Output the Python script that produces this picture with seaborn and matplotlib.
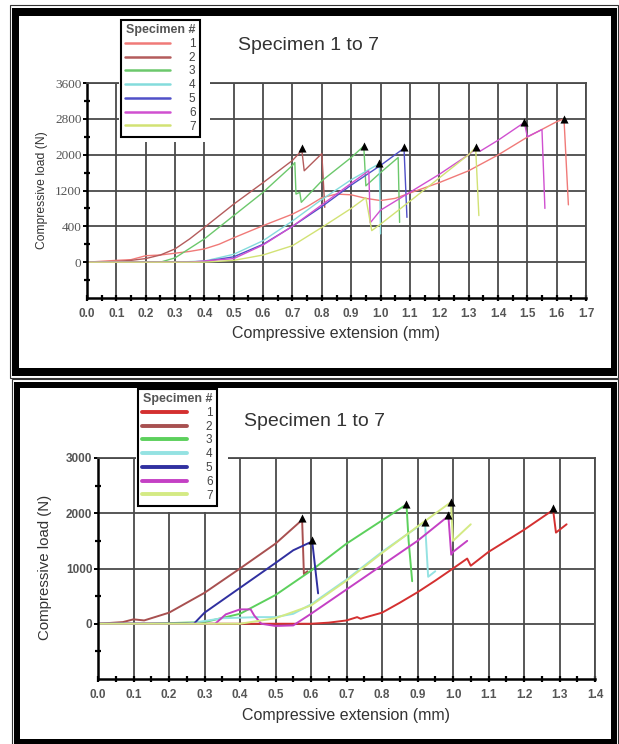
"""Compressive load vs extension, specimens 1-7, two test series stacked."""

import numpy as np
import pandas as pd
import seaborn as sns
import matplotlib.pyplot as plt
from matplotlib.lines import Line2D
from matplotlib.patches import Rectangle

# ---- data: upper series (load in plot units, 800 per grid step; the original
# axis labels are printed as 0, 400, 1200, 2000, 2800, 3600) ----
TOP_YTICK_LABELS = ["0", "400", "1200", "2000", "2800", "3600"]

top_s1_x = [0.0, 0.1, 0.15, 0.2, 0.25, 0.3, 0.35, 0.4, 0.45, 0.5, 0.55, 0.6, 0.65, 0.7,
            0.75, 0.8, 0.85, 0.9, 0.95, 1.0, 1.05, 1.1, 1.2, 1.3, 1.4, 1.5, 1.6, 1.625, 1.64]
top_s1_y = [0, 40, 56, 144, 160, 200, 240, 296, 400, 544, 680, 816, 944, 1072,
            1240, 1440, 1520, 1504, 1424, 1376, 1424, 1544, 1776, 2040, 2392, 2792, 3136, 3200, 1280]
top_s2_x = [0.0, 0.1, 0.15, 0.2, 0.25, 0.3, 0.35, 0.4, 0.5, 0.6, 0.7, 0.732, 0.74, 0.8, 0.81]
top_s2_y = [0, 16, 40, 80, 160, 296, 520, 776, 1296, 1776, 2272, 2496, 2040, 2424, 1224]
top_s3_x = [0.0, 0.15, 0.25, 0.3, 0.4, 0.5, 0.6, 0.7, 0.708, 0.712, 0.725, 0.73,
            0.8, 0.9, 0.943, 0.95, 1.0, 1.06, 1.065]
top_s3_y = [0, 0, 0, 96, 520, 1040, 1560, 2160, 2224, 1520, 1560, 1336,
            1816, 2336, 2592, 1704, 2000, 2336, 888]
top_s4_x = [0.0, 0.3, 0.4, 0.5, 0.6, 0.7, 0.8, 0.9, 0.996, 1.0]
top_s4_y = [0, 0, 24, 176, 480, 920, 1400, 1840, 2200, 632]
top_s5_x = [0.0, 0.3, 0.4, 0.5, 0.6, 0.7, 0.8, 0.9, 1.0, 1.08, 1.09]
top_s5_y = [0, 0, 16, 120, 400, 800, 1240, 1720, 2160, 2544, 1000]
top_s6_x = [0.0, 0.35, 0.5, 0.6, 0.7, 0.8, 0.9, 0.96, 0.965, 1.0, 1.1, 1.2, 1.3,
            1.33, 1.34, 1.4, 1.49, 1.5, 1.55, 1.56]
top_s6_y = [0, 0, 80, 384, 800, 1280, 1760, 2040, 880, 1160, 1560, 1960, 2400,
            2560, 2480, 2720, 3120, 2800, 2960, 1200]
top_s7_x = [0.0, 0.4, 0.5, 0.6, 0.7, 0.8, 0.9, 0.95, 0.97, 1.0, 1.1, 1.2, 1.3, 1.324, 1.335]
top_s7_y = [0, 0, 40, 160, 368, 776, 1200, 1440, 704, 848, 1360, 1880, 2400, 2560, 1040]
top_peak_x = [0.732, 0.943, 0.996, 1.08, 1.324, 1.49, 1.625]
top_peak_y = [2552, 2592, 2208, 2576, 2576, 3120, 3200]

# ---- data: lower series (load in N) ----
bot_s1_x = [0.0, 0.6, 0.65, 0.7, 0.73, 0.74, 0.75, 0.8, 0.85, 0.9, 0.95, 1.0, 1.04,
            1.05, 1.06, 1.1, 1.2, 1.282, 1.29, 1.32]
bot_s1_y = [0, 0, 20, 60, 120, 90, 110, 200, 380, 570, 780, 1000, 1180,
            1050, 1100, 1300, 1700, 2060, 1650, 1800]
bot_s2_x = [0.0, 0.07, 0.1, 0.13, 0.2, 0.3, 0.4, 0.5, 0.575, 0.58, 0.59]
bot_s2_y = [0, 30, 80, 60, 200, 560, 1000, 1450, 1880, 900, 950]
bot_s3_x = [0.0, 0.14, 0.3, 0.4, 0.5, 0.6, 0.7, 0.8, 0.869, 0.875, 0.885]
bot_s3_y = [0, 0, 30, 180, 520, 960, 1450, 1870, 2160, 1500, 770]
bot_s4_x = [0.0, 0.25, 0.35, 0.45, 0.5, 0.55, 0.6, 0.7, 0.8, 0.9, 0.921, 0.93, 0.95]
bot_s4_y = [0, 0, 100, 120, 120, 180, 350, 800, 1300, 1750, 1850, 850, 950]
bot_s5_x = [0.0, 0.27, 0.3, 0.4, 0.5, 0.55, 0.6, 0.603, 0.62]
bot_s5_y = [0, 0, 200, 650, 1100, 1330, 1480, 1515, 550]
bot_s6_x = [0.0, 0.33, 0.36, 0.4, 0.43, 0.44, 0.46, 0.5, 0.55, 0.6, 0.7, 0.8, 0.9,
            0.987, 0.995, 1.0, 1.04]
bot_s6_y = [0, 0, 170, 260, 260, 150, 0, -40, -30, 180, 620, 1060, 1500,
            1950, 1250, 1300, 1500]
bot_s7_x = [0.0, 0.4, 0.5, 0.6, 0.7, 0.8, 0.9, 0.994, 1.0, 1.05]
bot_s7_y = [0, 0, 100, 330, 780, 1280, 1760, 2200, 1500, 1800]
bot_peak_x = [0.575, 0.603, 0.869, 0.921, 0.987, 0.994, 1.282]
bot_peak_y = [1909, 1515, 2164, 1848, 1964, 2206, 2103]

SPECIMENS = ["1", "2", "3", "4", "5", "6", "7"]
TOP_COLORS = ["#f07a78", "#b45c5c", "#6cc86c", "#84dcdc", "#5050c8", "#d050d0", "#d2e274"]
BOT_COLORS = ["#d43030", "#a85050", "#5cd05c", "#94e2e2", "#3030a0", "#c440c4", "#d4ea84"]


def long_frame(xs, ys):
    parts = []
    for name, x, y in zip(SPECIMENS, xs, ys):
        parts.append(pd.DataFrame({"ext": x, "load": y, "specimen": name}))
    return pd.concat(parts, ignore_index=True)


W, H = 619, 744


def fx(px):
    return px / W


def fy(py):
    return 1 - py / H


def rect(x0, y0, x1, y1, **kw):
    return Rectangle((fx(x0), fy(y1)), (x1 - x0) / W, (y1 - y0) / H,
                     transform=fig.transFigure, **kw)


sns.set_theme(style="white")
plt.rcParams["font.family"] = ["Liberation Sans", "DejaVu Sans"]

fig = plt.figure(figsize=(W / 100, H / 100), dpi=100)

# double black frames around each panel
for (o, b, w) in [((10, 5, 618, 378), (12, 8, 617, 376), (19, 16, 611, 368)),
                  ((12, 379, 618, 746), (14, 382, 617, 746), (20, 388, 611, 739))]:
    fig.patches.append(rect(*o, facecolor="white", edgecolor="#333333", lw=0.8, zorder=-3))
    fig.patches.append(rect(*b, facecolor="black", edgecolor="none", zorder=-2))
    fig.patches.append(rect(*w, facecolor="white", edgecolor="none", zorder=-1))

panels = [
    dict(box=(87, 83, 586, 298), xmax=1.7, ylim=(-800, 4000),
         yticks=[0, 800, 1600, 2400, 3200, 4000], ylabels=TOP_YTICK_LABELS,
         xs=[top_s1_x, top_s2_x, top_s3_x, top_s4_x, top_s5_x, top_s6_x, top_s7_x],
         ys=[top_s1_y, top_s2_y, top_s3_y, top_s4_y, top_s5_y, top_s6_y, top_s7_y],
         px=top_peak_x, py=top_peak_y, colors=TOP_COLORS, lw=1.0, leg_lw=1.8,
         title_xy=(309, 46), ylab_fs=8.7, ylab_xy=(-0.09, 0.5), xlab_y=-0.163,
         ytick_font=dict(family="Liberation Serif", size=9.5),
         legend_at=(121, 20), backing=(118.5, 16, 210, 142)),
    dict(box=(98, 458, 595, 679), xmax=1.4, ylim=(-1000, 3000),
         yticks=[0, 1000, 2000, 3000], ylabels=["0", "1000", "2000", "3000"],
         xs=[bot_s1_x, bot_s2_x, bot_s3_x, bot_s4_x, bot_s5_x, bot_s6_x, bot_s7_x],
         ys=[bot_s1_y, bot_s2_y, bot_s3_y, bot_s4_y, bot_s5_y, bot_s6_y, bot_s7_y],
         px=bot_peak_x, py=bot_peak_y, colors=BOT_COLORS, lw=1.4, leg_lw=2.8,
         title_xy=(315, 421), ylab_fs=10.8, ylab_xy=(-0.107, 0.507), xlab_y=-0.163,
         ytick_font=dict(family="Liberation Sans", size=8.5, weight="bold"),
         legend_at=(138, 389), backing=(135.5, 388, 228, 512)),
]

for P in panels:
    x0, y0, x1, y1 = P["box"]
    ax = fig.add_axes([fx(x0), fy(y1), (x1 - x0) / W, (y1 - y0) / H])
    ax.set_facecolor("white")

    df = long_frame(P["xs"], P["ys"])
    sns.lineplot(data=df, x="ext", y="load", hue="specimen", palette=P["colors"],
                 sort=False, estimator=None, legend=False, linewidth=P["lw"], ax=ax)
    peaks = pd.DataFrame({"ext": P["px"], "load": P["py"]})
    sns.scatterplot(data=peaks, x="ext", y="load", marker="^", color="black",
                    s=34, linewidth=0, ax=ax, zorder=5)

    ax.set_xlim(0, P["xmax"])
    ax.set_ylim(*P["ylim"])
    ax.set_xticks(np.round(np.arange(0, P["xmax"] + 0.01, 0.1), 1))
    ax.set_xticks(np.arange(0.05, P["xmax"], 0.1), minor=True)
    ax.set_xticklabels([f"{v:.1f}" for v in ax.get_xticks()], color="#555555",
                       fontsize=8.5, fontweight="bold")
    ax.set_yticks(P["yticks"])
    step = P["yticks"][1] - P["yticks"][0]
    ax.set_yticks(np.arange(P["ylim"][0] + step / 2, P["ylim"][1], step), minor=True)
    ax.set_yticklabels(P["ylabels"], color="#555555", **P["ytick_font"])

    ax.grid(True, which="major", color="#4a4a4a", lw=1.3)
    ax.set_axisbelow(True)
    for side in ["top", "right"]:
        ax.spines[side].set_color("#4a4a4a")
        ax.spines[side].set_linewidth(1.3)
    for side in ["left", "bottom"]:
        ax.spines[side].set_color("black")
        ax.spines[side].set_linewidth(1.8)
    ax.tick_params(axis="x", which="both", direction="inout", length=5, width=1.6,
                   color="black", bottom=True, pad=5)
    ax.tick_params(axis="y", which="major", direction="out", length=3, width=1.4,
                   color="black", left=True, pad=1)
    ax.tick_params(axis="y", which="minor", direction="inout", length=5, width=1.6,
                   color="black", left=True)

    ax.set_xlabel("Compressive extension (mm)", fontsize=11.5, color="#333333")
    ax.xaxis.set_label_coords(0.5, P["xlab_y"])
    ax.xaxis.label.set_va("center")
    ax.set_ylabel("Compressive load (N)", fontsize=P["ylab_fs"], color="#333333")
    ax.yaxis.set_label_coords(*P["ylab_xy"])
    ax.yaxis.label.set_va("center")

    tx, ty = P["title_xy"]
    fig.text(fx(tx), fy(ty), "Specimen 1 to 7", fontsize=14, color="#333333",
             ha="center", va="center")

    # white space kept clear around the legend box
    fig.patches.append(rect(*P["backing"], facecolor="white", edgecolor="none", zorder=3))
    handles = [Line2D([], [], color=c, lw=P["leg_lw"]) for c in P["colors"]]
    lx, ly = P["legend_at"]
    leg = fig.legend(handles, SPECIMENS, loc="upper left",
                     bbox_to_anchor=(fx(lx), fy(ly)), borderaxespad=0,
                     title="Specimen #", fontsize=8.5, title_fontsize=9,
                     handlelength=3.8, handletextpad=1.6, labelspacing=0.15,
                     borderpad=0.35, frameon=True, fancybox=False, framealpha=1,
                     edgecolor="black")
    leg.get_frame().set_linewidth(1.5)
    leg.get_title().set_color("#555555")
    leg.get_title().set_fontweight("bold")
    for t in leg.get_texts():
        t.set_color("#444444")
    leg.set_zorder(4)

fig.savefig("out.png", dpi=100)
